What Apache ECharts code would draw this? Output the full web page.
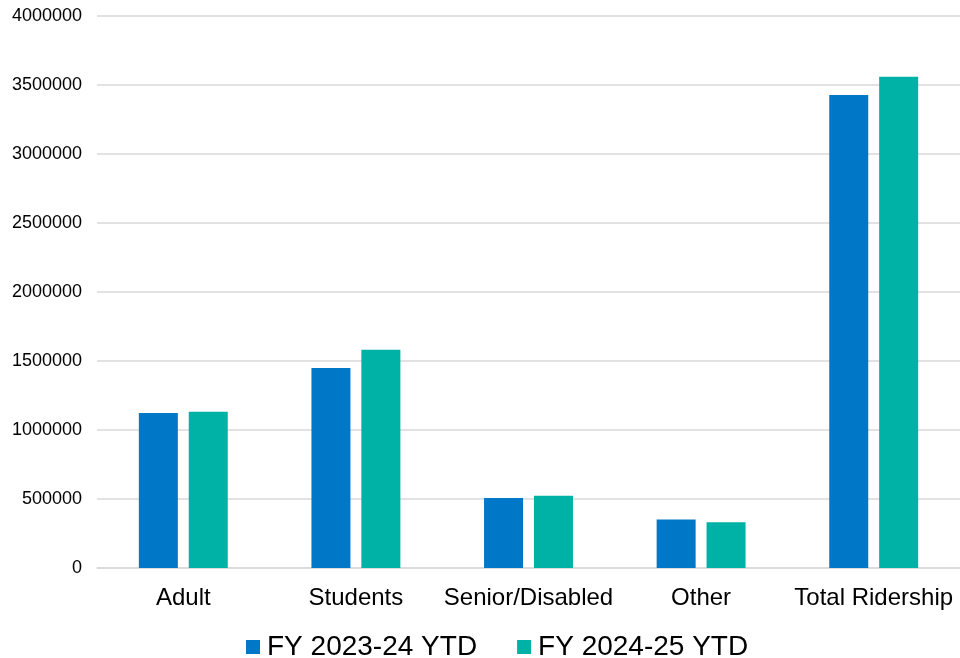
<!DOCTYPE html>
<html>
<head>
<meta charset="utf-8">
<script src="https://cdn.jsdelivr.net/npm/echarts@6/dist/echarts.min.js"></script>
<style>
  html, body { margin: 0; padding: 0; background: #ffffff; }
  #chart { width: 960px; height: 658px; }
</style>
</head>
<body>
<div id="chart"></div>
<script>
// Ridership by fare category, year-to-date comparison
const categories = ['Adult', 'Students', 'Senior/Disabled', 'Other', 'Total Ridership'];
const seriesNames = ['FY 2023-24 YTD', 'FY 2024-25 YTD'];
const fy2324 = [1123000, 1449000, 508000, 351000, 3427000];
const fy2425 = [1133000, 1581000, 524000, 331000, 3559000];
const yTicks = { min: 0, max: 4000000, interval: 500000 };

const font = '"Liberation Sans", Arial, sans-serif';
const chart = echarts.init(document.getElementById('chart'), null, { renderer: 'canvas' });

chart.setOption({
  animation: false,
  backgroundColor: '#ffffff',
  grid: { left: 97, right: 0, top: 16, bottom: 90, containLabel: false },
  legend: {
    data: seriesNames,
    left: 241,
    top: 628,
    itemWidth: 14,
    itemHeight: 14,
    itemGap: 40,
    icon: 'rect',
    textStyle: { fontFamily: font, fontSize: 28, color: '#000000', padding: [0, 0, 0, 2] }
  },
  xAxis: {
    type: 'category',
    data: categories,
    axisTick: { show: false },
    axisLine: { show: true, lineStyle: { color: '#d9d9d9', width: 1.5 } },
    axisLabel: { interval: 0, fontFamily: font, fontSize: 24, color: '#000000', margin: 18 }
  },
  yAxis: {
    type: 'value',
    min: yTicks.min,
    max: yTicks.max,
    interval: yTicks.interval,
    axisLine: { show: false },
    axisTick: { show: false },
    splitLine: { lineStyle: { color: '#d9d9d9', width: 1.5 } },
    axisLabel: {
      fontFamily: font, fontSize: 18, color: '#000000', margin: 15,
      formatter: v => String(v)
    }
  },
  series: [
    {
      name: seriesNames[0],
      type: 'bar',
      data: fy2324,
      barWidth: 39,
      barGap: '28%',
      itemStyle: { color: '#0177C8' }
    },
    {
      name: seriesNames[1],
      type: 'bar',
      data: fy2425,
      barWidth: 39,
      barGap: '28%',
      itemStyle: { color: '#00B1A6' }
    }
  ]
});
</script>
</body>
</html>
